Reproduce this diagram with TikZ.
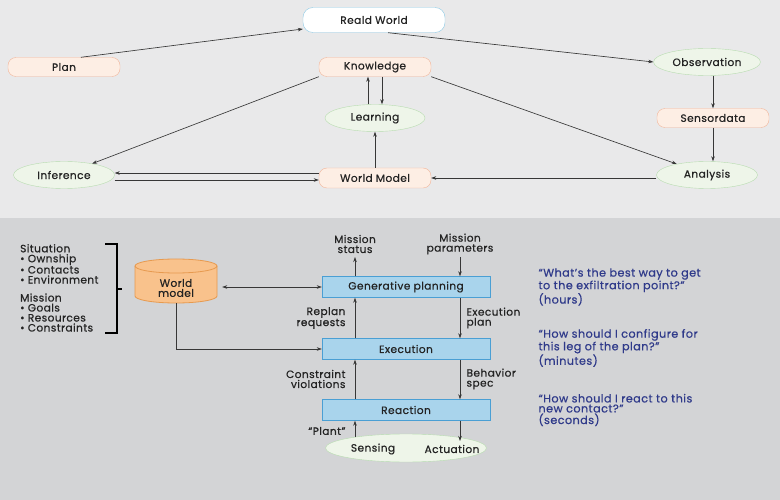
\documentclass[tikz,border=0pt]{standalone}
\usepackage{fontspec}
\setmainfont{Poppins}[FakeBold=0.6, LetterSpace=4]
\usepackage{xcolor}
\usepackage{tikz}
\usetikzlibrary{positioning, arrows.meta, shapes.geometric}
\definecolor{TopBg}{RGB}{233,233,234}
\definecolor{LowBg}{RGB}{211,212,214}
\definecolor{PeachFill}{RGB}{253,238,228}
\definecolor{PeachLine}{RGB}{242,182,155}
\definecolor{SageFill}{RGB}{238,245,233}
\definecolor{SageLine}{RGB}{183,220,176}
\definecolor{SkyLine}{RGB}{142,203,230}
\definecolor{BoxFill}{RGB}{169,212,236}
\definecolor{BoxLine}{RGB}{74,159,212}
\definecolor{DrumFill}{RGB}{249,194,140}
\definecolor{DrumLine}{RGB}{231,154,79}
\definecolor{QuoteBlue}{RGB}{47,58,138}
\definecolor{Wire}{RGB}{55,55,55}
\definecolor{Ink}{RGB}{35,35,35}
\tikzset{
	small/.style={font=\fontsize{10.6}{10}\selectfont, text=Ink},
	pill/.style={draw=PeachLine, fill=PeachFill, rounded corners=8pt, minimum width=112pt, minimum height=19pt, small},
	oval/.style={ellipse, draw=SageLine, fill=SageFill, minimum width=101pt, minimum height=27pt, small},
	layer/.style={draw=BoxLine, fill=BoxFill, minimum width=168pt, minimum height=21pt, small},
	wire/.style={draw=Wire, line width=0.65pt, -{Stealth[length=5pt,width=3.5pt]}},
	note/.style={font=\fontsize{11.2}{10}\selectfont, align=left, text=QuoteBlue, anchor=west},
	lbl/.style={small, align=center},
}
\begin{document}
\begin{tikzpicture}[x=1pt, y=-1pt]
\useasboundingbox (0,0) rectangle (780,500);
\fill[TopBg] (0,0) rectangle (780,218);
\fill[LowBg] (0,218) rectangle (780,500);

% upper loop
\node[pill, draw=SkyLine, fill=white, minimum width=142pt, minimum height=25pt, rounded corners=10pt] (real) at (374,20) {Reald World};
\node[pill] (plan) at (64,67) {Plan};
\node[pill] (know) at (375,67) {Knowledge};
\node[oval] (obs) at (707,62) {Observation};
\node[oval, minimum width=100pt] (learn) at (375,118) {Learning};
\node[pill] (sensor) at (713,118) {Sensordata};
\node[oval] (infer) at (64,175) {Inference};
\node[pill, minimum height=20pt] (wmodel) at (375,178) {World Model};
\node[oval] (anal) at (707,175) {Analysis};

\draw[wire] (plan.30) -- (real.west |- 0,29);
\draw[wire] (real.-42) -- (obs.west);
\draw[wire] (know.south west) -- (infer.22);
\draw[wire] (know.south east) -- (anal.160);
\draw[wire] (learn.north -| 368,0) -- (know.south -| 368,0);
\draw[wire] (know.south -| 382,0) -- (learn.north -| 382,0);
\draw[wire] (wmodel.north) -- (learn.south);
\draw[wire] (wmodel.west |- 0,173) -- (infer.east |- 0,173);
\draw[wire] (infer.east |- 0,180) -- (wmodel.west |- 0,180);
\draw[wire] (anal.west |- 0,178) -- (wmodel.east |- 0,178);
\draw[wire] (obs.south -| 713,0) -- (sensor.north -| 713,0);
\draw[wire] (sensor.south -| 713,0) -- (anal.north -| 713,0);

% lower layers
\node[small, align=left, anchor=north west, inner sep=0pt] (sit) at (20,244) {Situation\\
	\textbullet\ Ownship\\ \textbullet\ Contacts\\ \textbullet\ Environment\\[8pt]
	Mission\\ \textbullet\ Goals\\ \textbullet\ Resources\\ \textbullet\ Constraints};
\draw[line width=1.1pt] (105,244) -- (117,244) -- (117,333) -- (105,333);
\draw[line width=1.1pt] (117,289) -- (122,289);

% world model drum
\draw[draw=DrumLine, fill=DrumFill, line width=0.8pt] (135,266) -- (135,296) arc (180:0:41 and 7) -- (217,266) arc (0:-180:41 and 7) -- cycle;
\draw[draw=DrumLine, line width=0.8pt] (135,266) arc (180:0:41 and 7);
\node[small, align=center, minimum width=82pt, minimum height=44pt] (drum) at (176,281) {};
\node[small, align=center] (drumlbl) at ([yshift=-7pt]drum.center) {World\\model};

\node[layer] (gen) at (406,287) {Generative planning};
\node[layer] (exec) at (406,349) {Execution};
\node[layer] (react) at (406,410) {Reaction};
\node[oval, minimum width=161pt, minimum height=28pt] (plant) at (406,448) {};
\node[small] (sense) at (373,449) {Sensing};
\node[small] (act) at (452,449) {Actuation};

\node[lbl] (mstat) at (355,244) {Mission\\status};
\node[lbl] (mpar) at (460,244) {Mission\\parameters};
\node[lbl, align=right, anchor=east] (replan) at (349,318) {Replan\\requests};
\node[lbl, align=left, anchor=west] (eplan) at (463,318) {Execution\\plan};
\node[lbl, align=right, anchor=east] (cviol) at (349,379) {Constraint\\violations};
\node[lbl, align=left, anchor=west] (bspec) at (463,379) {Behavior\\spec};
\node[lbl, anchor=east] (plantlbl) at (349,431) {“Plant”};

\draw[wire, {Stealth[length=5pt,width=3.5pt]}-{Stealth[length=5pt,width=3.5pt]}] (drum.east |- 0,287) ++(5,0) -- (gen.west);
\draw[wire] (drum.south) -- (176,349) -- (exec.west);
\draw[wire] (gen.north -| 355,0) -- (355,257);
\draw[wire] (460,257) -- (gen.north -| 460,0);
\draw[wire] (exec.north -| 355,0) -- (gen.south -| 355,0);
\draw[wire] (gen.south -| 460,0) -- (exec.north -| 460,0);
\draw[wire] (react.north -| 355,0) -- (exec.south -| 355,0);
\draw[wire] (exec.south -| 460,0) -- (react.north -| 460,0);
\draw[wire] (355,437) -- (react.south -| 355,0);
\draw[wire] (react.south -| 460,0) -- (460,441);

\node[note] (q1) at (535,287) {“What’s the best way to get\\to the exfiltration point?”\\(hours)};
\node[note] (q2) at (535,348) {“How should I configure for\\this leg of the plan?”\\(minutes)};
\node[note] (q3) at (535,410) {“How should I react to this\\new contact?”\\(seconds)};
\end{tikzpicture}
\end{document}
